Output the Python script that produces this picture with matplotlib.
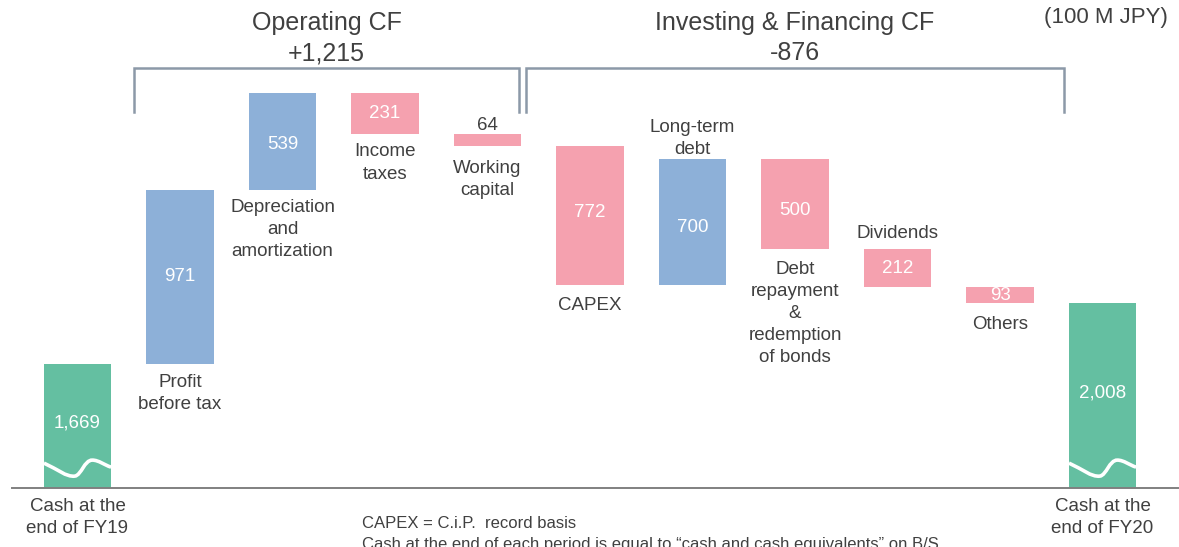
import numpy as np
import matplotlib.pyplot as plt
from matplotlib.path import Path
from matplotlib.patches import PathPatch

plt.rcParams['font.family'] = ['Liberation Sans', 'DejaVu Sans']

# ---- data (100 M JPY) ----
categories = ['Cash at the\nend of FY19', 'Profit\nbefore tax', 'Depreciation\nand\namortization',
              'Income\ntaxes', 'Working\ncapital', 'CAPEX', 'Long-term\ndebt',
              'Debt\nrepayment\n&\nredemption\nof bonds', 'Dividends', 'Others',
              'Cash at the\nend of FY20']
start_cash = 1669
changes = [971, 539, -231, -64, -772, 700, -500, -212, -93]
end_cash = 2008
value_labels = ['1,669', '971', '539', '231', '64', '772', '700', '500', '212', '93', '2,008']
group_titles = ['Operating CF\n+1,215', 'Investing & Financing CF\n-876']
unit_note = '(100 M JPY)'
footnotes = ['CAPEX = C.i.P.  record basis',
             'Cash at the end of each period is equal to \u201ccash and cash equivalents\u201d on B/S']

# ---- layout / style ----
axis_break = 978          # value where the (broken) axis starts
GREEN, BLUE, PINK = '#64BFA1', '#8DB0D8', '#F5A1AF'
TXT = '#404040'
BRACKET = '#8C99A8'
px = 72 / 100             # points per pixel at dpi 100
unit_per_px = 1 / 0.1795

# where each category label goes relative to its bar, and gap in pixels
label_side = ['base', 'below', 'below', 'below', 'below', 'below', 'above', 'below', 'above', 'below', 'base']
label_gap = [10, 10, 9, 9, 14, 12, 1, 12, 7, 13, 10]
# small vertical nudges (px, up positive) of the in-bar value labels
value_nudge = [3, 0, -3, 0, 0, 3, -6, -7, -1, 0, 3]
bracket_spans = [(0.55, 4.31), (4.38, 9.62)]

# ---- compute waterfall ----
bottoms = [axis_break]
heights = [start_cash - axis_break]
colors = [GREEN]
running = start_cash
for d in changes:
    if d > 0:
        bottoms.append(running)
        colors.append(BLUE)
    else:
        bottoms.append(running + d)
        colors.append(PINK)
    heights.append(abs(d))
    running += d
bottoms.append(axis_break)
heights.append(end_cash - axis_break)
colors.append(GREEN)

x = np.arange(len(categories))
width = 0.655

fig = plt.figure(figsize=(11.79, 5.47), dpi=100)
ax = fig.add_axes([0, 0, 1, 1])
ax.set_xlim(-0.756, 10.746)
ax.set_ylim(650, 3697)
ax.axis('off')

ax.bar(x, heights, width, bottom=bottoms, color=colors, edgecolor='none', zorder=2)

# baseline
ax.plot([-0.64, 10.746], [axis_break, axis_break], color='#808080', lw=1.4, zorder=3)

# wavy break marks on the two cash bars
for i in (0, len(x) - 1):
    w0 = x[i] - width / 2
    pts = [(0, 25), (0.2, 19), (0.33, 11), (0.46, 12),
           (0.56, 13), (0.6, 28), (0.72, 28),
           (0.82, 28), (0.9, 23), (1.0, 21)]
    verts = [(w0 + t * width, axis_break + h * unit_per_px) for t, h in pts]
    codes = [Path.MOVETO] + [Path.CURVE4] * 9
    ax.add_patch(PathPatch(Path(verts, codes), facecolor='none', edgecolor='white',
                           lw=2.6, zorder=4, capstyle='butt'))

# value labels
for i in range(len(x)):
    top = bottoms[i] + heights[i]
    if i == 4:
        ax.annotate(value_labels[i], (x[i], top), xytext=(0, 0), textcoords='offset points',
                    ha='center', va='bottom', fontsize=13.5, color=TXT)
    else:
        ax.annotate(value_labels[i], (x[i], bottoms[i] + heights[i] / 2),
                    xytext=(0, value_nudge[i] * px), textcoords='offset points',
                    ha='center', va='center', fontsize=13.5, color='white', zorder=5)

# category labels
for i in range(len(x)):
    side = label_side[i]
    if side == 'above':
        ax.annotate(categories[i], (x[i], bottoms[i] + heights[i]),
                    xytext=(0, label_gap[i] * px), textcoords='offset points',
                    ha='center', va='bottom', fontsize=13.5, color=TXT, linespacing=1.4)
    else:
        ax.annotate(categories[i], (x[i], bottoms[i]),
                    xytext=(0, -label_gap[i] * px), textcoords='offset points',
                    ha='center', va='top', fontsize=13.5, color=TXT, linespacing=1.4)

# group brackets and titles
br_top = 3697 - 68 * unit_per_px
br_bot = 3697 - 112 * unit_per_px
for (x0, x1), title in zip(bracket_spans, group_titles):
    ax.plot([x0, x0, x1, x1], [br_bot, br_top, br_top, br_bot], color=BRACKET, lw=1.8,
            solid_joinstyle='miter', zorder=3)
    ax.annotate(title, ((x0 + x1) / 2, br_top), xytext=(0, 3 * px), textcoords='offset points',
                ha='center', va='bottom', fontsize=18, color=TXT, linespacing=1.34)

fig.text(1168 / 1179, 1 - 18 / 547, unit_note, ha='right', va='center', fontsize=16, color=TXT)
fig.text(362 / 1179, 1 - 523 / 547, footnotes[0], ha='left', va='center', fontsize=12, color=TXT)
fig.text(362 / 1179, 1 - 545 / 547, footnotes[1], ha='left', va='center', fontsize=12, color=TXT)

fig.savefig('out.png', dpi=100)
